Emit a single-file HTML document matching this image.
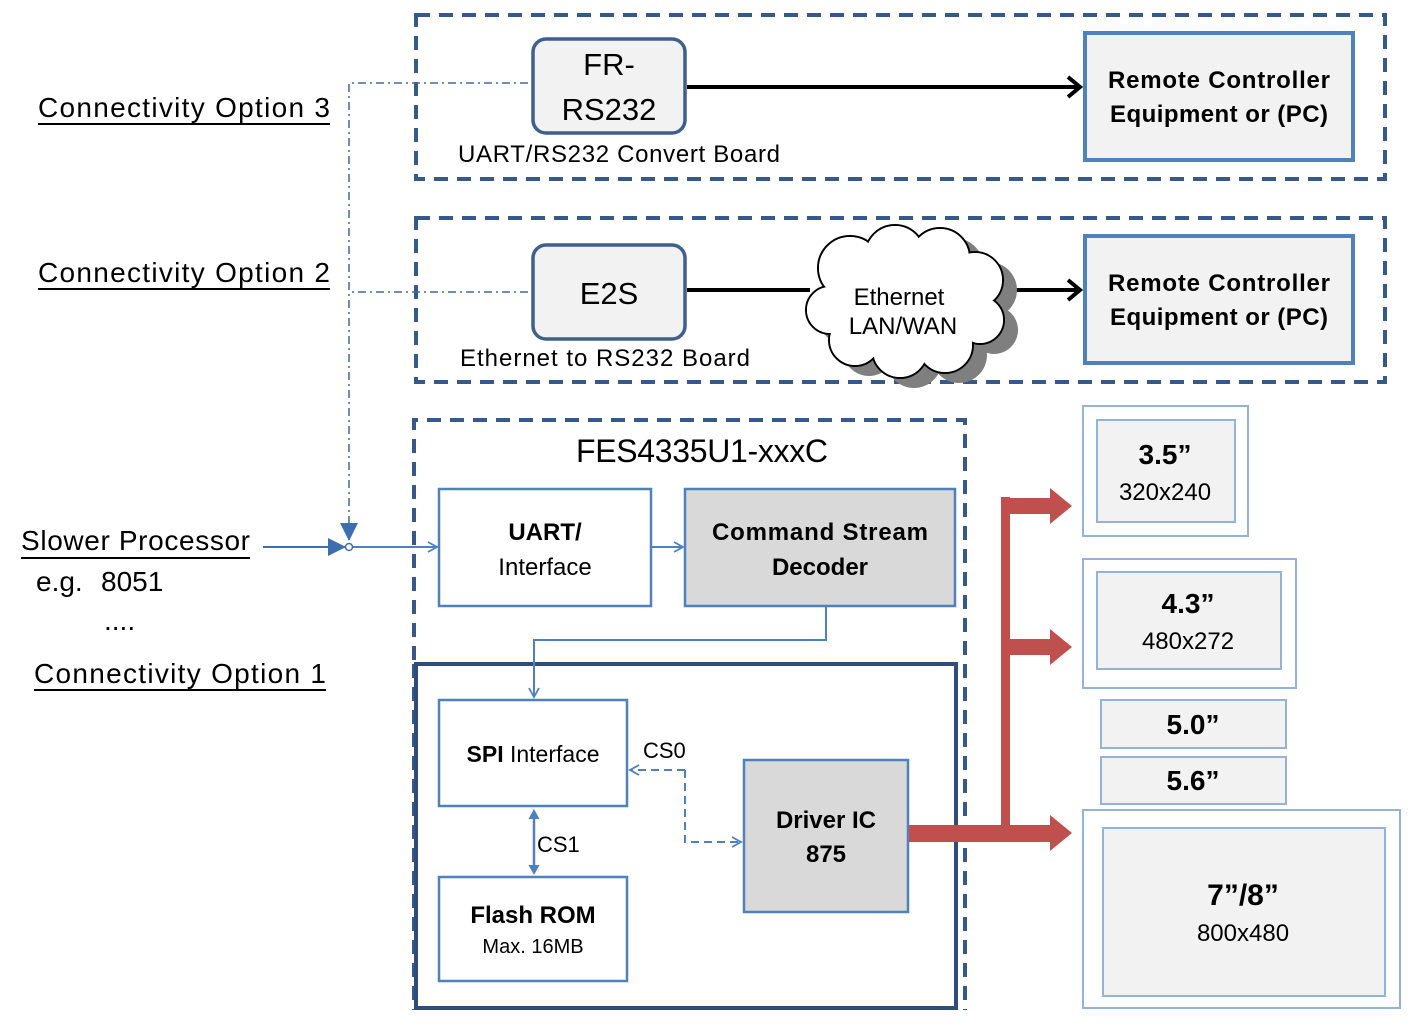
<!DOCTYPE html>
<html><head><meta charset="utf-8"><style>
html,body{margin:0;padding:0;background:#fff;width:1415px;height:1028px;overflow:hidden}
svg{display:block;font-family:"Liberation Sans",sans-serif}
</style></head><body>
<svg width="1415" height="1028" viewBox="0 0 1415 1028" xmlns="http://www.w3.org/2000/svg">
<defs>
<marker id="ob" markerWidth="12" markerHeight="12" refX="10" refY="6" orient="auto" markerUnits="userSpaceOnUse"><path d="M1,1 L10,6 L1,11" fill="none" stroke="#4f81bd" stroke-width="1.8"/></marker>
<marker id="obs" markerWidth="12" markerHeight="12" refX="6" refY="6" orient="auto-start-reverse" markerUnits="userSpaceOnUse"><path d="M1,1 L10,6 L1,11" fill="#4f81bd" stroke="#4f81bd" stroke-width="1"/></marker>
<marker id="fb" markerWidth="20" markerHeight="20" refX="17" refY="10" orient="auto" markerUnits="userSpaceOnUse"><path d="M0,1 L18,10 L0,19 Z" fill="#3d6fb0"/></marker>
<marker id="bk" markerWidth="24" markerHeight="24" refX="20" refY="12" orient="auto" markerUnits="userSpaceOnUse"><path d="M8,2 L20,12 L8,22" fill="none" stroke="#000" stroke-width="4"/></marker>
</defs>

<g fill="none" stroke="#35598a" stroke-width="4" stroke-dasharray="14,9">
<rect x="416" y="15" width="969" height="164"/>
<rect x="416" y="218" width="969" height="164"/>
<path d="M414,660 V420 H965 V1010"/>
</g>
<path d="M414,664 V1010" stroke="#35598a" stroke-width="4" stroke-dasharray="14,9"/>
<rect x="416" y="664" width="540" height="344" fill="none" stroke="#2e4d7b" stroke-width="4"/>

<g font-size="28" fill="#000">
<text x="38" y="117" textLength="292">Connectivity Option 3</text>
<text x="38" y="282" textLength="292">Connectivity Option 2</text>
<text x="21" y="550" textLength="229">Slower Processor</text>
<text x="36" y="591">e.g.</text>
<text x="101" y="591">8051</text>
<text x="104" y="630">....</text>
<text x="34" y="683" textLength="292">Connectivity Option 1</text>
</g>
<g stroke="#000" stroke-width="2">
<line x1="38" y1="124" x2="330" y2="124"/><line x1="38" y1="289" x2="330" y2="289"/>
<line x1="21" y1="558" x2="250" y2="558"/><line x1="34" y1="690" x2="326" y2="690"/>
</g>

<g stroke="#3f6a9e" stroke-width="1.5" fill="none" stroke-dasharray="8,4,2,4">
<path d="M528,83 H349 V530"/>
<path d="M528,292 H349"/>
</g>
<path d="M349,528 V540" stroke="#3d6fb0" stroke-width="2" marker-end="url(#fb)"/>
<line x1="263" y1="547" x2="345" y2="547" stroke="#3d6fb0" stroke-width="2" marker-end="url(#fb)"/>
<line x1="352" y1="547" x2="437" y2="547" stroke="#4f81bd" stroke-width="2" marker-end="url(#ob)"/>
<circle cx="349" cy="547" r="3.5" fill="#fff" stroke="#3d6fb0" stroke-width="1.5"/>

<rect x="533" y="39" width="152" height="94" rx="13" fill="#f2f2f2" stroke="#3f5f8f" stroke-width="3.5"/>
<text x="609" y="75" font-size="31" text-anchor="middle">FR-</text>
<text x="609" y="120" font-size="31" text-anchor="middle">RS232</text>
<text x="458" y="162" font-size="24" textLength="322">UART/RS232 Convert Board</text>
<line x1="687" y1="87" x2="1080" y2="87" stroke="#000" stroke-width="4" marker-end="url(#bk)"/>
<rect x="1085" y="33" width="268" height="127" fill="#f2f2f2" stroke="#4f81bd" stroke-width="4"/>
<text x="1219" y="88" font-size="24" font-weight="bold" text-anchor="middle" textLength="222">Remote Controller</text>
<text x="1219" y="122" font-size="24" font-weight="bold" text-anchor="middle" textLength="218">Equipment or (PC)</text>

<rect x="533" y="245" width="152" height="94" rx="13" fill="#f2f2f2" stroke="#3f5f8f" stroke-width="3.5"/>
<text x="609" y="304" font-size="31" text-anchor="middle">E2S</text>
<text x="460" y="366" font-size="24" textLength="290">Ethernet to RS232 Board</text>
<line x1="687" y1="290" x2="810" y2="290" stroke="#000" stroke-width="4"/>
<line x1="1015" y1="290" x2="1080" y2="290" stroke="#000" stroke-width="4" marker-end="url(#bk)"/>
<g transform="translate(14,10)" fill="#7f7f7f">
<circle cx="850" cy="268" r="32"/><circle cx="895" cy="255" r="30"/><circle cx="940" cy="258" r="30"/><circle cx="975" cy="280" r="28"/><circle cx="980" cy="320" r="24"/><circle cx="945" cy="345" r="28"/><circle cx="900" cy="350" r="28"/><circle cx="855" cy="340" r="26"/><circle cx="830" cy="310" r="24"/><ellipse cx="905" cy="305" rx="70" ry="55"/>
</g>
<g fill="#fff" stroke="#000" stroke-width="2">
<circle cx="850" cy="268" r="32"/><circle cx="895" cy="255" r="30"/><circle cx="940" cy="258" r="30"/><circle cx="975" cy="280" r="28"/><circle cx="980" cy="320" r="24"/><circle cx="945" cy="345" r="28"/><circle cx="900" cy="350" r="28"/><circle cx="855" cy="340" r="26"/><circle cx="830" cy="310" r="24"/>
</g>
<g fill="#fff">
<circle cx="850" cy="268" r="31"/><circle cx="895" cy="255" r="29"/><circle cx="940" cy="258" r="29"/><circle cx="975" cy="280" r="27"/><circle cx="980" cy="320" r="23"/><circle cx="945" cy="345" r="27"/><circle cx="900" cy="350" r="27"/><circle cx="855" cy="340" r="25"/><circle cx="830" cy="310" r="23"/><ellipse cx="905" cy="305" rx="72" ry="56"/>
</g>
<text x="899" y="305" font-size="24" text-anchor="middle">Ethernet</text>
<text x="903" y="334" font-size="24" text-anchor="middle">LAN/WAN</text>
<rect x="1085" y="236" width="268" height="127" fill="#f2f2f2" stroke="#4f81bd" stroke-width="4"/>
<text x="1219" y="291" font-size="24" font-weight="bold" text-anchor="middle" textLength="222">Remote Controller</text>
<text x="1219" y="325" font-size="24" font-weight="bold" text-anchor="middle" textLength="218">Equipment or (PC)</text>

<text x="702" y="462" font-size="32" text-anchor="middle" textLength="252">FES4335U1-xxxC</text>
<rect x="439" y="489" width="212" height="117" fill="#fff" stroke="#4f81bd" stroke-width="2.5"/>
<text x="545" y="540" font-size="24" font-weight="bold" text-anchor="middle">UART/</text>
<text x="545" y="575" font-size="24" text-anchor="middle">Interface</text>
<line x1="652" y1="547" x2="683" y2="547" stroke="#4f81bd" stroke-width="2" marker-end="url(#ob)"/>
<rect x="685" y="489" width="270" height="117" fill="#d9d9d9" stroke="#4f81bd" stroke-width="2.5"/>
<text x="820" y="540" font-size="24" font-weight="bold" text-anchor="middle" textLength="216">Command Stream</text>
<text x="820" y="575" font-size="24" font-weight="bold" text-anchor="middle">Decoder</text>
<path d="M826,607 V640 H534 V697" fill="none" stroke="#4f81bd" stroke-width="2" marker-end="url(#ob)"/>

<rect x="439" y="700" width="188" height="106" fill="#fff" stroke="#4f81bd" stroke-width="2.5"/>
<text x="533" y="762" font-size="23" text-anchor="middle"><tspan font-weight="bold">SPI</tspan> Interface</text>
<text x="643" y="758" font-size="22">CS0</text>
<path d="M685,770 V842 H741" fill="none" stroke="#4f81bd" stroke-width="2" stroke-dasharray="8,5" marker-end="url(#ob)"/>
<path d="M685,770 H630" fill="none" stroke="#4f81bd" stroke-width="2" stroke-dasharray="8,5" marker-end="url(#ob)"/>
<line x1="534" y1="814" x2="534" y2="870" stroke="#4f81bd" stroke-width="2.5" marker-start="url(#obs)" marker-end="url(#obs)"/>
<text x="537" y="852" font-size="22">CS1</text>
<rect x="439" y="877" width="188" height="104" fill="#fff" stroke="#4f81bd" stroke-width="2.5"/>
<text x="533" y="923" font-size="24" font-weight="bold" text-anchor="middle">Flash ROM</text>
<text x="533" y="953" font-size="20" text-anchor="middle">Max. 16MB</text>
<rect x="744" y="760" width="164" height="152" fill="#d9d9d9" stroke="#4f81bd" stroke-width="2.5"/>
<text x="826" y="828" font-size="24" font-weight="bold" text-anchor="middle">Driver IC</text>
<text x="826" y="862" font-size="24" font-weight="bold" text-anchor="middle">875</text>

<g fill="#c0504d">
<rect x="909" y="825" width="142" height="17"/>
<path d="M1050,815 L1072,833 L1050,851 Z"/>
<rect x="1001" y="497" width="9" height="340"/>
<rect x="1001" y="498" width="50" height="16"/>
<path d="M1050,488 L1072,506 L1050,524 Z"/>
<rect x="1001" y="639" width="50" height="16"/>
<path d="M1050,629 L1072,647 L1050,665 Z"/>
</g>

<g stroke="#95b3d7" stroke-width="2" fill="#f2f2f2">
<rect x="1083" y="406" width="165" height="130" fill="#fff"/>
<rect x="1097" y="420" width="138" height="102"/>
<rect x="1083" y="559" width="213" height="129" fill="#fff"/>
<rect x="1097" y="572" width="184" height="97"/>
<rect x="1101" y="700" width="185" height="48"/>
<rect x="1101" y="757" width="185" height="47"/>
<rect x="1083" y="810" width="317" height="198" fill="#fff"/>
<rect x="1103" y="828" width="282" height="168"/>
</g>
<g text-anchor="middle">
<text x="1165" y="464" font-size="28" font-weight="bold">3.5”</text>
<text x="1165" y="500" font-size="24">320x240</text>
<text x="1188" y="613" font-size="28" font-weight="bold">4.3”</text>
<text x="1188" y="649" font-size="24">480x272</text>
<text x="1193" y="734" font-size="28" font-weight="bold">5.0”</text>
<text x="1193" y="790" font-size="28" font-weight="bold">5.6”</text>
<text x="1243" y="905" font-size="30" font-weight="bold">7”/8”</text>
<text x="1243" y="941" font-size="24">800x480</text>
</g>
</svg>
</body></html>
